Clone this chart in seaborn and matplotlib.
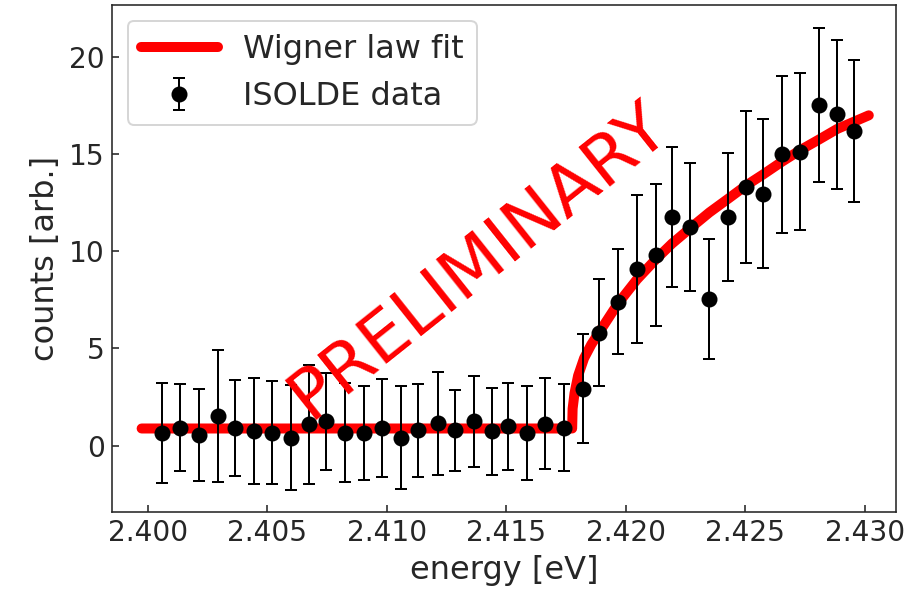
import matplotlib

matplotlib.use('Agg')
import matplotlib.pyplot as plt
import seaborn as sns

# ISOLDE data points
energy = [2.40058, 2.40136, 2.40213, 2.40293, 2.40365, 2.40442, 2.40519, 2.40597,
          2.40674, 2.40744, 2.40826, 2.40903, 2.40980, 2.41058, 2.41131, 2.41212,
          2.41285, 2.41364, 2.41441, 2.41508, 2.41585, 2.41662, 2.41741, 2.41820,
          2.41889, 2.41966, 2.42046, 2.42126, 2.42193, 2.42270, 2.42349, 2.42427,
          2.42504, 2.42573, 2.42651, 2.42728, 2.42807, 2.42884, 2.42954]
counts = [0.66, 0.91, 0.53, 1.52, 0.91, 0.74, 0.66, 0.40, 1.09, 1.26, 0.66, 0.66,
          0.91, 0.40, 0.78, 1.14, 0.78, 1.26, 0.74, 1.00, 0.66, 1.12, 0.91, 2.93,
          5.82, 7.41, 9.10, 9.82, 11.77, 11.25, 7.55, 11.77, 13.32, 12.97, 14.99,
          15.13, 17.54, 17.05, 16.21]
errors = [2.58, 2.24, 2.36, 3.38, 2.46, 2.72, 2.65, 2.70, 3.07, 2.50, 2.54, 2.41,
          2.52, 2.65, 2.41, 2.66, 2.09, 2.34, 2.23, 2.24, 2.41, 2.35, 2.24, 2.79,
          2.77, 2.71, 3.82, 3.67, 3.62, 3.29, 3.08, 3.31, 3.92, 3.84, 4.03, 4.03,
          3.96, 3.83, 3.66]

# Wigner law fit curve
fit_energy = [2.39974, 2.41775, 2.41777, 2.41785, 2.41800, 2.41825, 2.41855, 2.41889,
              2.41966, 2.42046, 2.42126, 2.42193, 2.42270, 2.42349, 2.42427, 2.42504,
              2.42573, 2.42651, 2.42728, 2.42807, 2.42884, 2.43016]
fit_counts = [0.88, 0.88, 1.9, 2.7, 3.6, 4.5, 5.2, 5.85,
              7.3, 8.55, 9.6, 10.4, 11.2, 12.0, 12.7, 13.4,
              13.95, 14.6, 15.2, 15.75, 16.3, 17.0]

xticks = [2.400, 2.405, 2.410, 2.415, 2.420, 2.425, 2.430]
yticks = [0, 5, 10, 15, 20]

sns.set_style('ticks', {'xtick.direction': 'in', 'ytick.direction': 'in'})

fig, ax = plt.subplots(figsize=(912 / 144, 594 / 144), dpi=144)
fig.subplots_adjust(left=0.1228, right=0.9825, bottom=0.138, top=0.9916)

sns.lineplot(x=fit_energy, y=fit_counts, color='red', lw=5, label='Wigner law fit',
             ax=ax, zorder=2)
ax.errorbar(energy, counts, yerr=errors, fmt='o', color='black', ms=7, capsize=3,
            elinewidth=1, capthick=1, label='ISOLDE data', zorder=3)

ax.text(0.467, 0.497, 'PRELIMINARY', transform=ax.transAxes, rotation=38.5,
        fontsize=35, color='red', ha='center', va='center', zorder=4)

ax.set_xlim(2.3985, 2.4313)
ax.set_ylim(-3.42, 22.68)
ax.set_xticks(xticks)
ax.set_xticklabels([f'{t:.3f}' for t in xticks])
ax.set_yticks(yticks)
ax.tick_params(direction='in', labelsize=14, length=3.5)
ax.set_xlabel('energy [eV]', fontsize=16)
ax.set_ylabel('counts [arb.]', fontsize=16)
ax.legend(loc='upper left', fontsize=16, handlelength=2.4)

fig.savefig('out.png', dpi=144)
